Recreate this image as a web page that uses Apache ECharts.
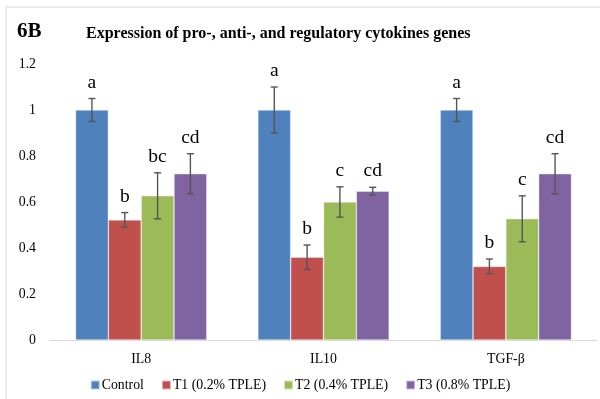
<!DOCTYPE html>
<html><head><meta charset="utf-8">
<script src="https://cdn.jsdelivr.net/npm/echarts@6/dist/echarts.min.js"></script>
<style>html,body{margin:0;padding:0;background:#fff}#c{width:600px;height:399px}</style>
</head><body><div id="c"></div>
<script>
const categories = ['IL8', 'IL10', 'TGF-β'];
const seriesNames = ['Control', 'T1 (0.2% TPLE)', 'T2 (0.4% TPLE)', 'T3 (0.8% TPLE)'];
const controlValues = [1.0, 1.0, 1.0];
const t1Values = [0.522, 0.36, 0.32];
const t2Values = [0.627, 0.60, 0.527];
const t3Values = [0.723, 0.647, 0.723];
const controlErr = [0.05, 0.10, 0.05];
const t1Err = [0.032, 0.053, 0.032];
const t2Err = [0.10, 0.066, 0.10];
const t3Err = [0.087, 0.017, 0.087];
const controlLetters = ['a', 'a', 'a'];
const t1Letters = ['b', 'b', 'b'];
const t2Letters = ['bc', 'c', 'c'];
const t3Letters = ['cd', 'cd', 'cd'];
const yTicks = [0, 0.2, 0.4, 0.6, 0.8, 1, 1.2];

const colors = ['#4F81BD', '#C0504D', '#9BBB59', '#8064A2'];
const values = [controlValues, t1Values, t2Values, t3Values];
const errs = [controlErr, t1Err, t2Err, t3Err];
const letters = [controlLetters, t1Letters, t2Letters, t3Letters];
const FONT = '"Liberation Serif", "DejaVu Serif", serif';
const CAT_GAP = 0.28;

const chart = echarts.init(document.getElementById('c'), null, {renderer: 'canvas'});

const barSeries = seriesNames.map((n, i) => ({
  name: n, type: 'bar', barGap: '0%', barCategoryGap: (CAT_GAP * 100) + '%',
  data: values[i],
  itemStyle: {color: colors[i], borderColor: 'rgba(255,255,255,0.6)', borderWidth: 0.6},
  emphasis: {disabled: true}, z: 2
}));

const errSeries = seriesNames.map((n, i) => ({
  type: 'custom', z: 5, silent: true,
  data: values[i].map((v, k) => [k, v, errs[i][k]]),
  encode: {x: 0, y: 1},
  renderItem: function (params, api) {
    const k = api.value(0), v = api.value(1), e = api.value(2);
    const bw = api.size([1, 0])[0];
    const barW = bw * (1 - CAT_GAP) / 4;
    const center = api.coord([k, v]);
    const x = center[0] + (i - 1.5) * barW;
    const top = api.coord([k, v + e])[1];
    const bot = api.coord([k, v - e])[1];
    const cap = 3.5;
    const st = {stroke: '#555555', lineWidth: 1.4};
    return {type: 'group', children: [
      {type: 'line', shape: {x1: x, y1: top, x2: x, y2: bot}, style: st},
      {type: 'line', shape: {x1: x - cap, y1: top, x2: x + cap, y2: top}, style: st},
      {type: 'line', shape: {x1: x - cap, y1: bot, x2: x + cap, y2: bot}, style: st},
      {type: 'text', style: {text: letters[i][k], x: x, y: top - 6, align: 'center', verticalAlign: 'bottom',
        font: '19.5px ' + FONT, fill: '#000'}}
    ]};
  }
}));

chart.setOption({
  animation: false,
  color: colors,
  graphic: [
    {type: 'rect', shape: {x: 6, y: 7, width: 600, height: 400}, style: {fill: 'none', stroke: '#D9D9D9', lineWidth: 1}, z: -1},
    {type: 'text', left: 17, top: 21, style: {text: '6B', font: 'bold 21px ' + FONT, fill: '#000'}}
  ],
  title: {
    text: 'Expression of pro-, anti-, and regulatory cytokines genes',
    left: 81, top: 21,
    textStyle: {fontFamily: FONT, fontWeight: 'bold', fontSize: 16, color: '#000'}
  },
  legend: {
    data: seriesNames, bottom: 2, left: 'center', itemWidth: 9, itemHeight: 9, itemGap: 17,
    icon: 'rect', textStyle: {fontFamily: FONT, fontSize: 13.8, color: '#000', padding: [0, 0, 0, -3]}
  },
  grid: {left: 50, right: 3, top: 64, bottom: 59},
  xAxis: {
    type: 'category', data: categories,
    axisLine: {lineStyle: {color: '#D9D9D9', width: 1}},
    axisTick: {show: false},
    axisLabel: {fontFamily: FONT, fontSize: 13.8, color: '#000', margin: 12}
  },
  yAxis: {
    type: 'value', min: 0, max: 1.2, interval: 0.2,
    axisLine: {show: false}, axisTick: {show: false}, splitLine: {show: false},
    axisLabel: {fontFamily: FONT, fontSize: 13.8, color: '#000', margin: 14,
      formatter: function (v) { const t = yTicks.find(t => Math.abs(t - v) < 1e-9); return String(t !== undefined ? t : v); }}
  },
  series: barSeries.concat(errSeries)
});
</script></body></html>
